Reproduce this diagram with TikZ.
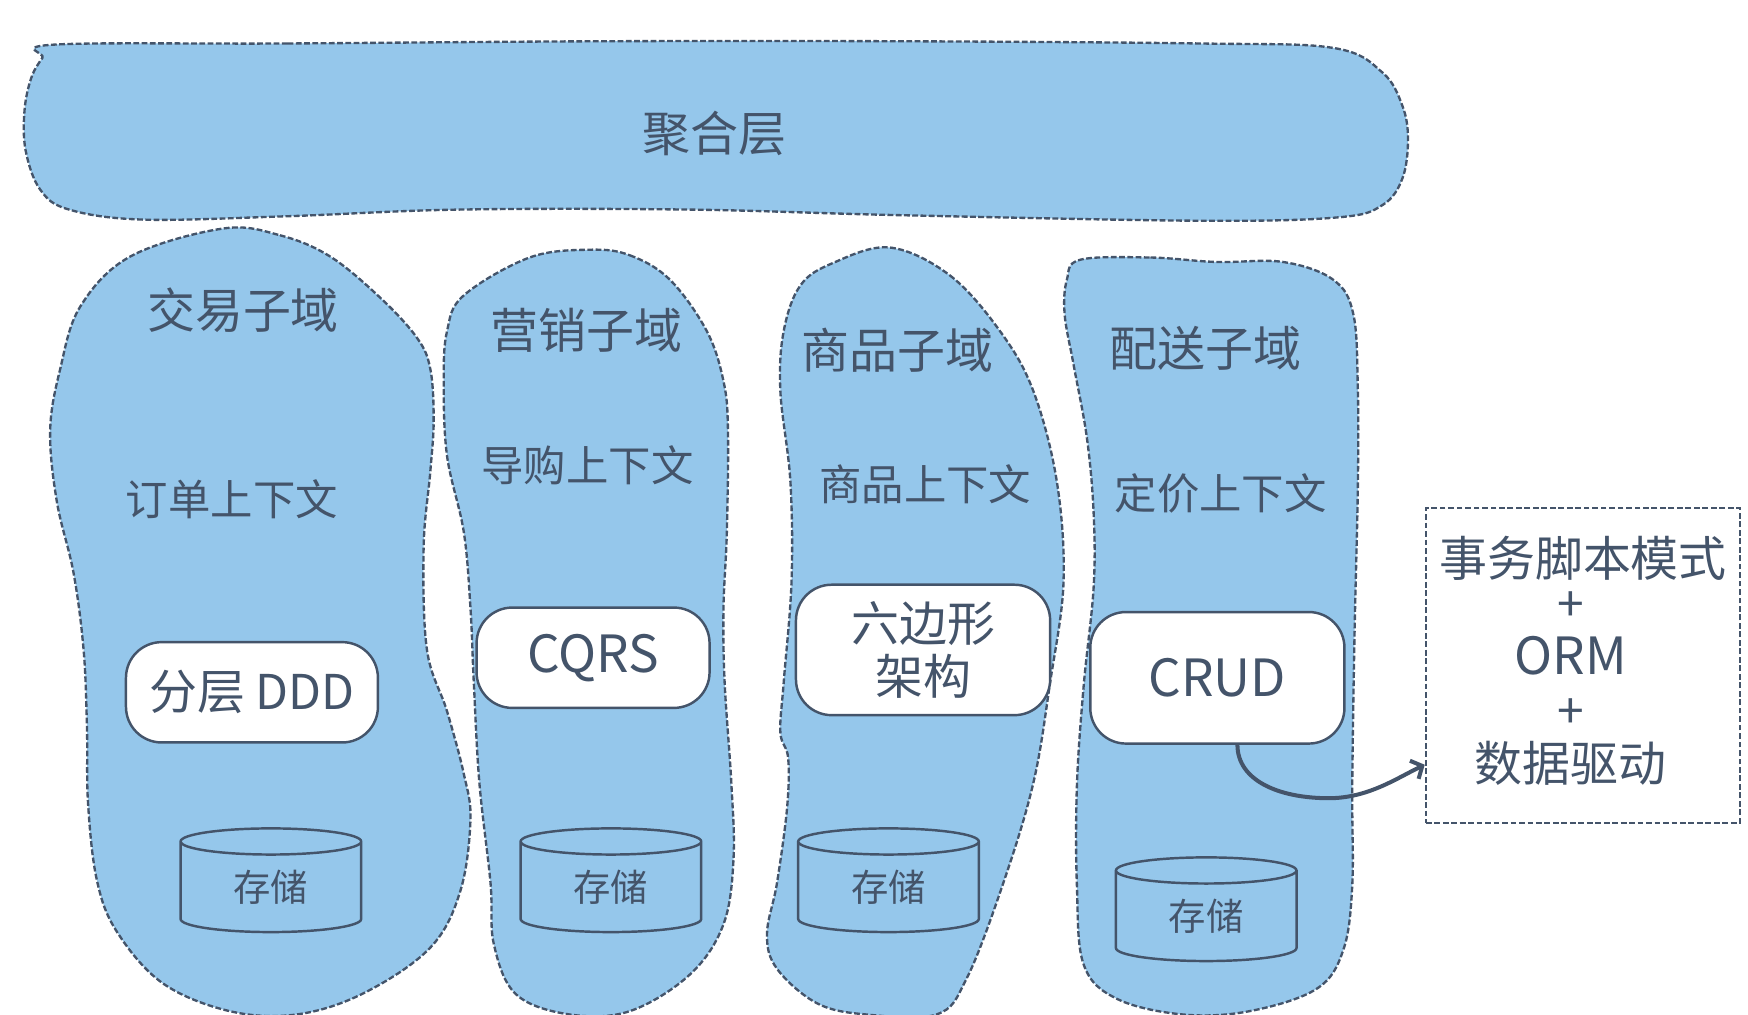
\documentclass[tikz,border=0pt]{standalone}
\usepackage{fontspec}
\setmainfont{Noto Sans CJK SC}
\usetikzlibrary{arrows.meta,shapes.geometric}
\definecolor{bleu}{RGB}{149,199,235}
\definecolor{ardoise}{RGB}{68,84,106}

\begin{document}
\begin{tikzpicture}[x=0.5pt, y=-0.5pt]
	\tikzstyle{zone}=[fill=bleu, draw=ardoise, line width=1.05pt, dash pattern=on 2.6pt off 1.1pt]
	\tikzstyle{titre}=[text=ardoise, inner sep=0pt, font=\fontsize{21.5}{24}\selectfont]
	\tikzstyle{contexte}=[text=ardoise, inner sep=0pt, font=\fontsize{19}{22}\selectfont]
	\tikzstyle{archi}=[draw=ardoise, fill=white, line width=1.1pt, rounded corners=16pt, inner sep=0pt, text=ardoise, align=center, font=\fontsize{21.5}{24}\selectfont]
	\tikzstyle{stockage}=[cylinder, shape border rotate=90, draw=ardoise, line width=1.1pt, aspect=0.35, minimum width=81pt, minimum height=46.5pt, inner sep=0pt, text=ardoise, font=\fontsize{16.75}{20}\selectfont]
	\tikzstyle{flux}=[draw=ardoise, line width=1.8pt, -{Straight Barb[length=4pt, width=9pt]}]

	\useasboundingbox (0,0) rectangle (1568,910);

	% ZONES
	\draw[zone] plot[smooth cycle, tension=0.6] coordinates {
		(49,40) (258,39) (540,37) (807,37) (1076,39) (1196,43) (1240,65) (1258,95)
		(1263,125) (1258,160) (1240,184) (1200,195) (1076,198) (807,193) (618,188)
		(412,188) (257,194) (129,197) (62,188) (36,170) (23,135) (22,99) (28,70) (38,52)};
	\draw[zone] plot[smooth cycle, tension=0.6] coordinates {
		(200,205) (251,211) (296,230) (341,267) (374,303) (386,331) (389,377) (386,423)
		(380,491) (383,583) (401,638) (416,694) (422,735) (413,799) (386,850) (326,891)
		(266,910) (206,907) (146,882) (105,836) (87,790) (79,721) (78,652) (75,583)
		(66,514) (51,450) (45,386) (54,331) (72,275) (117,230)};
	\draw[zone] plot[smooth cycle, tension=0.6] coordinates {
		(529,224) (565,229) (601,251) (634,297) (649,342) (653,386) (652,477) (649,545)
		(650,612) (656,702) (658,770) (649,829) (619,874) (565,907) (511,910) (463,892)
		(443,847) (440,792) (430,702) (425,612) (422,545) (416,477) (401,409) (398,342)
		(401,297) (416,265) (475,231)};
	\draw[zone] plot[smooth cycle, tension=0.6] coordinates {
		(798,222) (852,247) (897,297) (927,351) (948,432) (954,522) (942,612) (927,702)
		(900,792) (867,878) (840,910) (777,910) (733,900) (697,869) (688,838) (697,792)
		(706,725) (707,680) (700,657) (703,612) (710,522) (709,432) (700,351) (703,297)
		(718,256) (747,236)};
	\draw[zone] plot[smooth cycle, tension=0.6] coordinates {
		(969,233) (1032,231) (1091,235) (1151,235) (1196,251) (1214,282) (1218,349)
		(1218,438) (1215,571) (1213,705) (1213,794) (1205,852) (1181,887) (1121,907)
		(1061,910) (1002,896) (972,865) (966,794) (966,705) (972,616) (981,527)
		(981,460) (975,393) (963,327) (955,282) (957,251)};

	% TITRES
	\node[titre] (agg) at (641,120) {聚合层};
	\node[titre] (dom1) at (218,278) {交易子域};
	\node[titre] (dom2) at (526,296) {营销子域};
	\node[titre] (dom3) at (805,314) {商品子域};
	\node[titre] (dom4) at (1081,312) {配送子域};

	% CONTEXTES
	\node[contexte] (ctx1) at (208,448) {订单上下文};
	\node[contexte] (ctx2) at (527,417) {导购上下文};
	\node[contexte] (ctx3) at (830,434) {商品上下文};
	\node[contexte] (ctx4) at (1095,443) {定价上下文};

	% ARCHITECTURES
	\node[archi, minimum width=113pt, minimum height=45pt] (arch1) at (226,621) {分层 DDD};
	\node[archi, minimum width=104.5pt, minimum height=45pt, font=\fontsize{23}{26}\selectfont] (arch2) at (532,590) {CQRS};
	\node[archi, minimum width=114pt, minimum height=58.5pt] (arch3) at (828,583) {六边形\\架构};
	\node[archi, minimum width=114pt, minimum height=59pt, font=\fontsize{23}{26}\selectfont] (arch4) at (1092,608) {CRUD};

	% STOCKAGE
	\node[stockage] (store1) at (243,796) {存储};
	\node[stockage] (store2) at (548,796) {存储};
	\node[stockage] (store3) at (797,796) {存储};
	\node[stockage] (store4) at (1082,822) {存储};

	% MODELE
	\node[draw=ardoise, line width=1pt, dash pattern=on 2.6pt off 1.2pt, minimum width=141pt, minimum height=141pt] (modele) at (1420,597) {};
	\node[text=ardoise, inner sep=0pt, align=center, font=\fontsize{21.5}{24}\selectfont] (modeletxt) at (1409,593)
		{\hspace*{11pt}事务脚本模式\\[-4pt]+\\{\fontsize{23}{24}\selectfont ORM}\\+\\数据驱动};

	\coordinate (creux) at (1192,716);
	\draw[flux] ([xshift=9pt]arch4.south) .. controls +(0,32) and +(-45,0) .. (creux)
		.. controls +(35,0) and +(-25,12) .. ([yshift=-44.5pt]modele.west);
\end{tikzpicture}
\end{document}
